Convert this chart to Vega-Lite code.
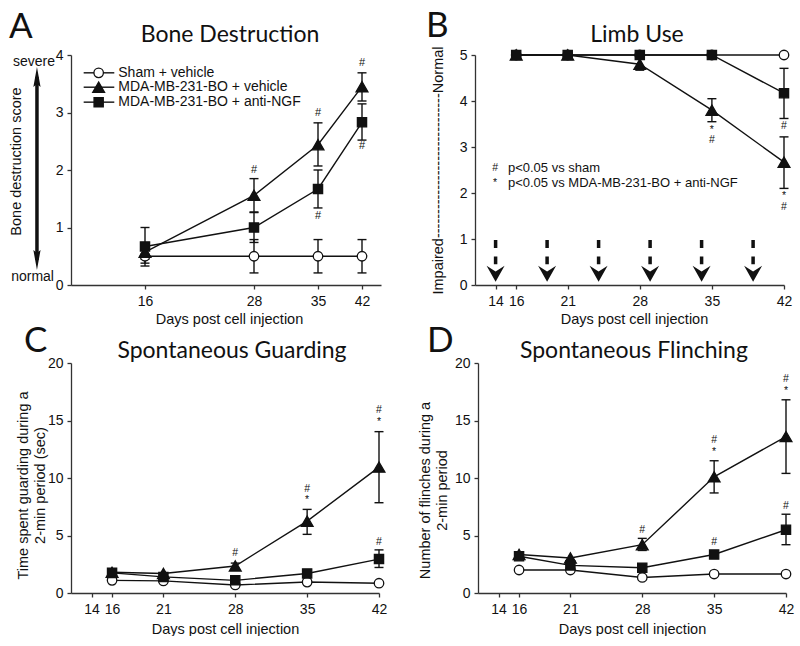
{
 "$schema": "https://vega.github.io/schema/vega-lite/v6.json",
 "padding": 0,
 "background": "white",
 "columns": 2,
 "spacing": {"row": 78, "column": 94},
 "bounds": "flush",
 "align": "each",
 "config": {
  "view": {"stroke": null},
  "axis": {"domainColor": "#333", "domainWidth": 1.3, "tickColor": "#333", "tickWidth": 1.3, "tickSize": 4, "labelFont": "Liberation Sans", "labelFontSize": 14, "labelColor": "#111", "labelPadding": 4, "titleFont": "Liberation Sans", "titleFontSize": 14.5, "titleFontWeight": "normal", "titleColor": "#111", "grid": false, "labelOverlap": false, "labelFlush": false, "labelBound": false},
  "axisX": {"labelPadding": 5},
  "text": {"color": "#111"}
 },
 "datasets": {
  "A": [
   {"day": 16, "group": "sham", "val": 0.5}, {"day": 28, "group": "sham", "val": 0.5}, {"day": 35, "group": "sham", "val": 0.5}, {"day": 42, "group": "sham", "val": 0.5},
   {"day": 16, "group": "veh", "val": 0.57}, {"day": 28, "group": "veh", "val": 1.56}, {"day": 35, "group": "veh", "val": 2.44}, {"day": 42, "group": "veh", "val": 3.45},
   {"day": 16, "group": "ngf", "val": 0.67}, {"day": 28, "group": "ngf", "val": 1.0}, {"day": 35, "group": "ngf", "val": 1.67}, {"day": 42, "group": "ngf", "val": 2.83}
  ],
  "Aerr": [
   {"day": 16, "group": "sham", "lo": 0.38, "hi": 0.62}, {"day": 28, "group": "sham", "lo": 0.21, "hi": 0.79}, {"day": 35, "group": "sham", "lo": 0.21, "hi": 0.79}, {"day": 42, "group": "sham", "lo": 0.21, "hi": 0.79},
   {"day": 16, "group": "veh", "lo": 0.45, "hi": 0.69}, {"day": 28, "group": "veh", "lo": 1.27, "hi": 1.85}, {"day": 35, "group": "veh", "lo": 2.07, "hi": 2.82}, {"day": 42, "group": "veh", "lo": 3.2, "hi": 3.69},
   {"day": 16, "group": "ngf", "lo": 0.33, "hi": 1.0}, {"day": 28, "group": "ngf", "lo": 0.74, "hi": 1.26}, {"day": 35, "group": "ngf", "lo": 1.34, "hi": 2.0}, {"day": 42, "group": "ngf", "lo": 2.52, "hi": 3.15}
  ],
  "Asig": [
   {"day": 28, "val": 2.0, "label": "#"}, {"day": 35, "val": 2.99, "label": "#"}, {"day": 42, "val": 3.86, "label": "#"}, {"day": 35, "val": 1.2, "label": "#"}, {"day": 42, "val": 2.42, "label": "#"}
  ],
  "Aleg": [
   {"group": "sham", "day": 9.37, "day2": 12.68, "dayp": 10.99, "dayt": 13.11, "val": 3.69, "label": "Sham + vehicle"},
   {"group": "veh", "day": 9.37, "day2": 12.68, "dayp": 10.99, "dayt": 13.11, "val": 3.44, "label": "MDA-MB-231-BO + vehicle"},
   {"group": "ngf", "day": 9.37, "day2": 12.68, "dayp": 10.99, "dayt": 13.11, "val": 3.18, "label": "MDA-MB-231-BO + anti-NGF"}
  ],
  "Atext": [
   {"kind": "letter", "day": 1.3, "val": 4.296, "label": "A"},
   {"kind": "title", "day": 25.36, "val": 4.226, "label": "Bone Destruction"},
   {"kind": "side", "day": 6.27, "val": 3.88, "label": "severe"},
   {"kind": "side", "day": 6.16, "val": 0.14, "label": "normal"}
  ],
  "Aarrow": [
   {"day": 4.32, "val": 3.62, "val2": 0.435}
  ],
  "Ahead": [
   {"day": 4.32, "val": 3.617, "dir": "up"}, {"day": 4.32, "val": 0.435, "dir": "down"}
  ],
  "Adummy": [
   {"day": 0.432, "day2": 0.5, "val": 4.9565}
  ],
  "B": [
   {"day": 16, "group": "sham", "val": 5}, {"day": 21, "group": "sham", "val": 5}, {"day": 28, "group": "sham", "val": 5}, {"day": 35, "group": "sham", "val": 5}, {"day": 42, "group": "sham", "val": 5},
   {"day": 16, "group": "veh", "val": 5}, {"day": 21, "group": "veh", "val": 5}, {"day": 28, "group": "veh", "val": 4.8}, {"day": 35, "group": "veh", "val": 3.8}, {"day": 42, "group": "veh", "val": 2.67},
   {"day": 16, "group": "ngf", "val": 5}, {"day": 21, "group": "ngf", "val": 5}, {"day": 28, "group": "ngf", "val": 5}, {"day": 35, "group": "ngf", "val": 5}, {"day": 42, "group": "ngf", "val": 4.17}
  ],
  "Berr": [
   {"day": 28, "group": "veh", "lo": 4.67, "hi": 4.93}, {"day": 35, "group": "veh", "lo": 3.55, "hi": 4.05}, {"day": 42, "group": "veh", "lo": 2.1, "hi": 3.22}, {"day": 42, "group": "ngf", "lo": 3.62, "hi": 4.71}
  ],
  "Bsig": [
   {"day": 35, "val": 3.38, "label": "*"}, {"day": 35, "val": 3.15, "label": "#"}, {"day": 42, "val": 3.45, "label": "#"}, {"day": 42, "val": 1.93, "label": "*"}, {"day": 42, "val": 1.7, "label": "#"},
   {"day": 13.95, "val": 2.54, "label": "#"}, {"day": 13.95, "val": 2.22, "label": "*"}
  ],
  "Btext": [
   {"kind": "letter", "day": 7.24, "val": 5.39, "label": "B"},
   {"kind": "title", "day": 27.73, "val": 5.283, "label": "Limb Use"},
   {"kind": "side", "day": 15.2, "val": 2.54, "label": "p<0.05 vs sham"},
   {"kind": "side", "day": 15.2, "val": 2.22, "label": "p<0.05 vs MDA-MB-231-BO + anti-NGF"}
  ],
  "Barrow": [
   {"day": 14, "top": 0.978, "bottom": 0.45, "head": 0.245}, {"day": 19, "top": 0.978, "bottom": 0.45, "head": 0.245}, {"day": 24, "top": 0.978, "bottom": 0.45, "head": 0.245},
   {"day": 29, "top": 0.978, "bottom": 0.45, "head": 0.245}, {"day": 34, "top": 0.978, "bottom": 0.45, "head": 0.245}, {"day": 39, "top": 0.978, "bottom": 0.45, "head": 0.245}
  ],
  "C": [
   {"day": 16, "group": "sham", "val": 1.1}, {"day": 21, "group": "sham", "val": 1.05}, {"day": 28, "group": "sham", "val": 0.7}, {"day": 35, "group": "sham", "val": 0.95}, {"day": 42, "group": "sham", "val": 0.85},
   {"day": 16, "group": "veh", "val": 1.8}, {"day": 21, "group": "veh", "val": 1.7}, {"day": 28, "group": "veh", "val": 2.35}, {"day": 35, "group": "veh", "val": 6.25}, {"day": 42, "group": "veh", "val": 10.95},
   {"day": 16, "group": "ngf", "val": 1.75}, {"day": 21, "group": "ngf", "val": 1.4}, {"day": 28, "group": "ngf", "val": 1.1}, {"day": 35, "group": "ngf", "val": 1.7}, {"day": 42, "group": "ngf", "val": 2.95}
  ],
  "Cerr": [
   {"day": 28, "group": "veh", "lo": 2.05, "hi": 2.6}, {"day": 35, "group": "veh", "lo": 5.1, "hi": 7.27}, {"day": 42, "group": "veh", "lo": 7.85, "hi": 14.03}, {"day": 42, "group": "ngf", "lo": 2.22, "hi": 3.75}
  ],
  "Csig": [
   {"day": 28, "val": 3.5, "label": "#"}, {"day": 35, "val": 9.05, "label": "#"}, {"day": 35, "val": 8.05, "label": "*"}, {"day": 42, "val": 15.9, "label": "#"}, {"day": 42, "val": 14.9, "label": "*"}, {"day": 42, "val": 4.4, "label": "#"}
  ],
  "Ctext": [
   {"kind": "letter", "day": 7.42, "val": 20.957, "label": "C"},
   {"kind": "title", "day": 27.68, "val": 20.435, "label": "Spontaneous Guarding"}
  ],
  "D": [
   {"day": 16, "group": "sham", "val": 2.0}, {"day": 21, "group": "sham", "val": 2.0}, {"day": 28, "group": "sham", "val": 1.35}, {"day": 35, "group": "sham", "val": 1.65}, {"day": 42, "group": "sham", "val": 1.65},
   {"day": 16, "group": "veh", "val": 3.35}, {"day": 21, "group": "veh", "val": 3.05}, {"day": 28, "group": "veh", "val": 4.2}, {"day": 35, "group": "veh", "val": 10.1}, {"day": 42, "group": "veh", "val": 13.6},
   {"day": 16, "group": "ngf", "val": 3.2}, {"day": 21, "group": "ngf", "val": 2.4}, {"day": 28, "group": "ngf", "val": 2.2}, {"day": 35, "group": "ngf", "val": 3.35}, {"day": 42, "group": "ngf", "val": 5.5}
  ],
  "Derr": [
   {"day": 28, "group": "veh", "lo": 3.7, "hi": 4.75}, {"day": 35, "group": "veh", "lo": 8.7, "hi": 11.5}, {"day": 42, "group": "veh", "lo": 10.4, "hi": 16.8}, {"day": 42, "group": "ngf", "lo": 4.2, "hi": 6.85}
  ],
  "Dsig": [
   {"day": 28, "val": 5.5, "label": "#"}, {"day": 35, "val": 13.3, "label": "#"}, {"day": 35, "val": 12.3, "label": "*"}, {"day": 42, "val": 18.6, "label": "#"}, {"day": 42, "val": 17.6, "label": "*"}, {"day": 35, "val": 4.45, "label": "#"}, {"day": 42, "val": 7.6, "label": "#"}
  ],
  "Dtext": [
   {"kind": "letter", "day": 7.03, "val": 20.957, "label": "D"},
   {"kind": "title", "day": 27.19, "val": 20.435, "label": "Spontaneous Flinching"}
  ]
 },
 "concat": [
  {
   "width": 310, "height": 230,
   "encoding": {
    "x": {"field": "day", "type": "quantitative", "scale": {"domain": [8, 16, 28, 35, 42, 45], "range": [0, 74, 183, 247, 291, 310], "nice": false, "zero": false}, "axis": {"values": [16, 28, 35, 42], "title": "Days post cell injection", "titleX": 158, "titleY": 38, "titleBaseline": "alphabetic", "titleAlign": "center"}},
    "y": {"field": "val", "type": "quantitative", "scale": {"domain": [0, 4], "nice": false, "zero": false}, "axis": {"values": [0, 1, 2, 3, 4], "title": "Bone destruction score", "titleX": -55, "titleY": 106, "titleAngle": -90, "titleAlign": "center", "titleBaseline": "middle"}}
   },
   "layer": [
    {"data": {"name": "Adummy"}, "mark": {"type": "rule", "opacity": 0, "strokeWidth": 0}, "encoding": {"x2": {"field": "day2"}}},
    {"data": {"name": "Aerr"}, "mark": {"type": "rule", "color": "#111", "strokeWidth": 1.4}, "encoding": {"y": {"field": "lo", "type": "quantitative"}, "y2": {"field": "hi"}}},
    {"data": {"name": "Aerr"}, "mark": {"type": "tick", "orient": "horizontal", "color": "#111", "size": 9, "thickness": 1.4, "opacity": 1}, "encoding": {"y": {"field": "lo", "type": "quantitative"}}},
    {"data": {"name": "Aerr"}, "mark": {"type": "tick", "orient": "horizontal", "color": "#111", "size": 9, "thickness": 1.4, "opacity": 1}, "encoding": {"y": {"field": "hi", "type": "quantitative"}}},
    {"data": {"name": "A"}, "mark": {"type": "line", "color": "#111", "strokeWidth": 1.4}, "encoding": {"detail": {"field": "group"}}},
    {"data": {"name": "A"}, "mark": {"type": "point", "color": "#111", "strokeWidth": 1.3, "opacity": 1},
     "encoding": {
      "shape": {"field": "group", "type": "nominal", "scale": {"domain": ["sham", "veh", "ngf"], "range": ["circle", "triangle-up", "square"]}, "legend": null},
      "fill": {"field": "group", "type": "nominal", "scale": {"domain": ["sham", "veh", "ngf"], "range": ["#ffffff", "#111111", "#111111"]}, "legend": null},
      "size": {"field": "group", "type": "nominal", "scale": {"type": "ordinal", "domain": ["sham", "veh", "ngf"], "range": [90, 140, 85]}, "legend": null}
     }},
    {"data": {"name": "Aleg"}, "mark": {"type": "rule", "color": "#111", "strokeWidth": 1.4}, "encoding": {"x2": {"field": "day2"}}},
    {"data": {"name": "Aleg"}, "mark": {"type": "point", "color": "#111", "strokeWidth": 1.3, "opacity": 1},
     "encoding": {
      "x": {"field": "dayp", "type": "quantitative"},
      "shape": {"field": "group", "type": "nominal", "scale": {"domain": ["sham", "veh", "ngf"], "range": ["circle", "triangle-up", "square"]}, "legend": null},
      "fill": {"field": "group", "type": "nominal", "scale": {"domain": ["sham", "veh", "ngf"], "range": ["#ffffff", "#111111", "#111111"]}, "legend": null},
      "size": {"field": "group", "type": "nominal", "scale": {"type": "ordinal", "domain": ["sham", "veh", "ngf"], "range": [90, 140, 85]}, "legend": null}
     }},
    {"data": {"name": "Aleg"}, "mark": {"type": "text", "font": "Liberation Sans", "fontSize": 14, "align": "left", "baseline": "middle"}, "encoding": {"x": {"field": "dayt", "type": "quantitative"}, "text": {"field": "label"}}},
    {"data": {"name": "Asig"}, "mark": {"type": "text", "font": "Liberation Sans", "fontSize": 11, "align": "center", "baseline": "middle"}, "encoding": {"text": {"field": "label"}}},
    {"data": {"name": "Aarrow"}, "mark": {"type": "rule", "color": "#111", "strokeWidth": 3.5}, "encoding": {"y2": {"field": "val2"}}},
    {"data": {"name": "Ahead"}, "transform": [{"filter": "datum.dir == 'up'"}], "mark": {"type": "point", "shape": "M0,-1L0.36,1L0,0.7L-0.36,1Z", "size": 400, "filled": true, "color": "#111", "opacity": 1}, "encoding": {}},
    {"data": {"name": "Ahead"}, "transform": [{"filter": "datum.dir == 'down'"}], "mark": {"type": "point", "shape": "M0,1L0.36,-1L0,-0.7L-0.36,-1Z", "size": 400, "filled": true, "color": "#111", "opacity": 1}, "encoding": {}},
    {"data": {"name": "Atext"}, "transform": [{"filter": "datum.kind == 'letter'"}], "mark": {"type": "text", "font": "Lato", "fontSize": 35, "align": "left", "baseline": "alphabetic"}, "encoding": {"text": {"field": "label"}}},
    {"data": {"name": "Atext"}, "transform": [{"filter": "datum.kind == 'title'"}], "mark": {"type": "text", "font": "Lato", "fontSize": 23, "align": "center", "baseline": "alphabetic"}, "encoding": {"text": {"field": "label"}}},
    {"data": {"name": "Atext"}, "transform": [{"filter": "datum.kind == 'side'"}], "mark": {"type": "text", "font": "Liberation Sans", "fontSize": 14, "align": "right", "baseline": "middle"}, "encoding": {"text": {"field": "label"}}}
   ]
  },
  {
   "width": 309, "height": 230,
   "encoding": {
    "x": {"field": "day", "type": "quantitative", "scale": {"domain": [12, 42], "nice": false, "zero": false}, "axis": {"values": [14, 16, 21, 28, 35, 42], "title": "Days post cell injection", "titleX": 159, "titleY": 38, "titleBaseline": "alphabetic", "titleAlign": "center"}},
    "y": {"field": "val", "type": "quantitative", "scale": {"domain": [0, 5], "nice": false, "zero": false}, "axis": {"values": [0, 1, 2, 3, 4, 5], "title": "Impaired------------------------------Normal", "titleX": -37, "titleY": 115, "titleAngle": -90, "titleAlign": "center", "titleBaseline": "middle"}}
   },
   "layer": [
    {"data": {"name": "Berr"}, "mark": {"type": "rule", "color": "#111", "strokeWidth": 1.4}, "encoding": {"y": {"field": "lo", "type": "quantitative"}, "y2": {"field": "hi"}}},
    {"data": {"name": "Berr"}, "mark": {"type": "tick", "orient": "horizontal", "color": "#111", "size": 9, "thickness": 1.4, "opacity": 1}, "encoding": {"y": {"field": "lo", "type": "quantitative"}}},
    {"data": {"name": "Berr"}, "mark": {"type": "tick", "orient": "horizontal", "color": "#111", "size": 9, "thickness": 1.4, "opacity": 1}, "encoding": {"y": {"field": "hi", "type": "quantitative"}}},
    {"data": {"name": "B"}, "mark": {"type": "line", "color": "#111", "strokeWidth": 1.4}, "encoding": {"detail": {"field": "group"}}},
    {"data": {"name": "B"}, "mark": {"type": "point", "color": "#111", "strokeWidth": 1.3, "opacity": 1},
     "encoding": {
      "shape": {"field": "group", "type": "nominal", "scale": {"domain": ["sham", "veh", "ngf"], "range": ["circle", "triangle-up", "square"]}, "legend": null},
      "fill": {"field": "group", "type": "nominal", "scale": {"domain": ["sham", "veh", "ngf"], "range": ["#ffffff", "#111111", "#111111"]}, "legend": null},
      "size": {"field": "group", "type": "nominal", "scale": {"type": "ordinal", "domain": ["sham", "veh", "ngf"], "range": [90, 140, 85]}, "legend": null}
     }},
    {"data": {"name": "Bsig"}, "mark": {"type": "text", "font": "Liberation Sans", "fontSize": 10.5, "align": "center", "baseline": "middle"}, "encoding": {"text": {"field": "label"}}},
    {"data": {"name": "Barrow"}, "mark": {"type": "rule", "color": "#111", "strokeWidth": 3.5, "strokeDash": [8, 8.5]}, "encoding": {"y": {"field": "top", "type": "quantitative"}, "y2": {"field": "bottom"}}},
    {"data": {"name": "Barrow"}, "mark": {"type": "point", "shape": "M-1,-0.9L0,-0.25L1,-0.9L0,0.9Z", "size": 324, "filled": true, "color": "#111", "opacity": 1}, "encoding": {"y": {"field": "head", "type": "quantitative"}}},
    {"data": {"name": "Btext"}, "transform": [{"filter": "datum.kind == 'letter'"}], "mark": {"type": "text", "font": "Lato", "fontSize": 35, "align": "left", "baseline": "alphabetic"}, "encoding": {"text": {"field": "label"}}},
    {"data": {"name": "Btext"}, "transform": [{"filter": "datum.kind == 'title'"}], "mark": {"type": "text", "font": "Lato", "fontSize": 23, "align": "center", "baseline": "alphabetic"}, "encoding": {"text": {"field": "label"}}},
    {"data": {"name": "Btext"}, "transform": [{"filter": "datum.kind == 'side'"}], "mark": {"type": "text", "font": "Liberation Sans", "fontSize": 13, "align": "left", "baseline": "middle"}, "encoding": {"text": {"field": "label"}}}
   ]
  },
  {
   "width": 308, "height": 230,
   "encoding": {
    "x": {"field": "day", "type": "quantitative", "scale": {"domain": [12, 42], "nice": false, "zero": false}, "axis": {"values": [14, 16, 21, 28, 35, 42], "title": "Days post cell injection", "titleX": 154, "titleY": 40, "titleBaseline": "alphabetic", "titleAlign": "center"}},
    "y": {"field": "val", "type": "quantitative", "scale": {"domain": [0, 20], "nice": false, "zero": false}, "axis": {"values": [0, 5, 10, 15, 20], "title": ["Time spent guarding during a", "2-min period (sec)"], "titleX": -48, "titleY": 122, "titleAngle": -90, "titleAlign": "center", "titleBaseline": "middle", "titleLineHeight": 17}}
   },
   "layer": [
    {"data": {"name": "Cerr"}, "mark": {"type": "rule", "color": "#111", "strokeWidth": 1.4}, "encoding": {"y": {"field": "lo", "type": "quantitative"}, "y2": {"field": "hi"}}},
    {"data": {"name": "Cerr"}, "mark": {"type": "tick", "orient": "horizontal", "color": "#111", "size": 9, "thickness": 1.4, "opacity": 1}, "encoding": {"y": {"field": "lo", "type": "quantitative"}}},
    {"data": {"name": "Cerr"}, "mark": {"type": "tick", "orient": "horizontal", "color": "#111", "size": 9, "thickness": 1.4, "opacity": 1}, "encoding": {"y": {"field": "hi", "type": "quantitative"}}},
    {"data": {"name": "C"}, "mark": {"type": "line", "color": "#111", "strokeWidth": 1.4}, "encoding": {"detail": {"field": "group"}}},
    {"data": {"name": "C"}, "mark": {"type": "point", "color": "#111", "strokeWidth": 1.3, "opacity": 1},
     "encoding": {
      "shape": {"field": "group", "type": "nominal", "scale": {"domain": ["sham", "veh", "ngf"], "range": ["circle", "triangle-up", "square"]}, "legend": null},
      "fill": {"field": "group", "type": "nominal", "scale": {"domain": ["sham", "veh", "ngf"], "range": ["#ffffff", "#111111", "#111111"]}, "legend": null},
      "size": {"field": "group", "type": "nominal", "scale": {"type": "ordinal", "domain": ["sham", "veh", "ngf"], "range": [90, 140, 85]}, "legend": null}
     }},
    {"data": {"name": "Csig"}, "mark": {"type": "text", "font": "Liberation Sans", "fontSize": 10.5, "align": "center", "baseline": "middle"}, "encoding": {"text": {"field": "label"}}},
    {"data": {"name": "Ctext"}, "transform": [{"filter": "datum.kind == 'letter'"}], "mark": {"type": "text", "font": "Lato", "fontSize": 35, "align": "left", "baseline": "alphabetic"}, "encoding": {"text": {"field": "label"}}},
    {"data": {"name": "Ctext"}, "transform": [{"filter": "datum.kind == 'title'"}], "mark": {"type": "text", "font": "Lato", "fontSize": 23, "align": "center", "baseline": "alphabetic"}, "encoding": {"text": {"field": "label"}}}
   ]
  },
  {
   "width": 311, "height": 230,
   "encoding": {
    "x": {"field": "day", "type": "quantitative", "scale": {"domain": [12, 42], "range": [3, 311], "nice": false, "zero": false}, "axis": {"values": [14, 16, 21, 28, 35, 42], "title": "Days post cell injection", "titleX": 157, "titleY": 40, "titleBaseline": "alphabetic", "titleAlign": "center"}},
    "y": {"field": "val", "type": "quantitative", "scale": {"domain": [0, 20], "nice": false, "zero": false}, "axis": {"values": [0, 5, 10, 15, 20], "offset": -3, "title": ["Number of flinches during a", "2-min period"], "titleX": -53, "titleY": 127, "titleAngle": -90, "titleAlign": "center", "titleBaseline": "middle", "titleLineHeight": 17}}
   },
   "layer": [
    {"data": {"name": "Derr"}, "mark": {"type": "rule", "color": "#111", "strokeWidth": 1.4}, "encoding": {"y": {"field": "lo", "type": "quantitative"}, "y2": {"field": "hi"}}},
    {"data": {"name": "Derr"}, "mark": {"type": "tick", "orient": "horizontal", "color": "#111", "size": 9, "thickness": 1.4, "opacity": 1}, "encoding": {"y": {"field": "lo", "type": "quantitative"}}},
    {"data": {"name": "Derr"}, "mark": {"type": "tick", "orient": "horizontal", "color": "#111", "size": 9, "thickness": 1.4, "opacity": 1}, "encoding": {"y": {"field": "hi", "type": "quantitative"}}},
    {"data": {"name": "D"}, "mark": {"type": "line", "color": "#111", "strokeWidth": 1.4}, "encoding": {"detail": {"field": "group"}}},
    {"data": {"name": "D"}, "mark": {"type": "point", "color": "#111", "strokeWidth": 1.3, "opacity": 1},
     "encoding": {
      "shape": {"field": "group", "type": "nominal", "scale": {"domain": ["sham", "veh", "ngf"], "range": ["circle", "triangle-up", "square"]}, "legend": null},
      "fill": {"field": "group", "type": "nominal", "scale": {"domain": ["sham", "veh", "ngf"], "range": ["#ffffff", "#111111", "#111111"]}, "legend": null},
      "size": {"field": "group", "type": "nominal", "scale": {"type": "ordinal", "domain": ["sham", "veh", "ngf"], "range": [90, 140, 85]}, "legend": null}
     }},
    {"data": {"name": "Dsig"}, "mark": {"type": "text", "font": "Liberation Sans", "fontSize": 10.5, "align": "center", "baseline": "middle"}, "encoding": {"text": {"field": "label"}}},
    {"data": {"name": "Dtext"}, "transform": [{"filter": "datum.kind == 'letter'"}], "mark": {"type": "text", "font": "Lato", "fontSize": 35, "align": "left", "baseline": "alphabetic"}, "encoding": {"text": {"field": "label"}}},
    {"data": {"name": "Dtext"}, "transform": [{"filter": "datum.kind == 'title'"}], "mark": {"type": "text", "font": "Lato", "fontSize": 23, "align": "center", "baseline": "alphabetic"}, "encoding": {"text": {"field": "label"}}}
   ]
  }
 ]
}
